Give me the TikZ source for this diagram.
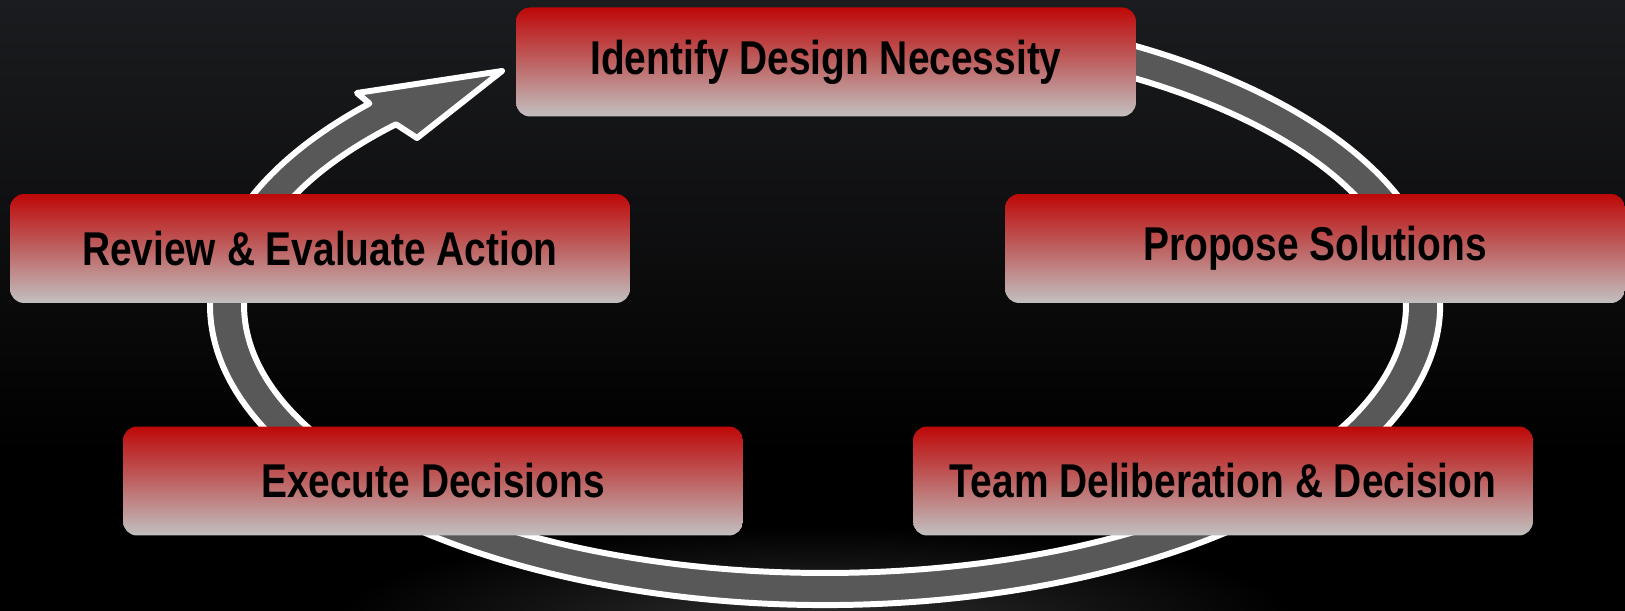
\documentclass[tikz,border=0pt]{standalone}
\usepackage{fontspec}
\setmainfont{Liberation Sans}[FakeStretch=0.82]
\usetikzlibrary{positioning}

\definecolor{bgtop}{RGB}{41,44,48}
\definecolor{bgmid}{RGB}{27,28,31}
\definecolor{bglow}{RGB}{10,10,11}
\definecolor{boxred}{RGB}{190,8,8}
\definecolor{boxmid}{RGB}{190,98,98}
\definecolor{boxgrey}{RGB}{194,192,192}
\definecolor{ringgrey}{RGB}{88,88,88}

\pgfdeclareverticalshading{backdrop}{100bp}{color(0bp)=(black); color(38bp)=(black); color(50bp)=(bglow); color(75bp)=(bgmid); color(100bp)=(bgtop)}

\tikzset{
  stage/.style={rounded corners=0.28cm, minimum width=12.4cm, minimum height=2.18cm,
    top color=boxred, bottom color=boxgrey, middle color=boxmid,
    font=\fontsize{27}{30}\selectfont\bfseries, text=black, inner sep=0pt},
  ring/.style={fill=ringgrey, draw=white, line width=3.4pt, line join=round}
}

\begin{document}
\begin{tikzpicture}[x=0.02cm,y=0.02cm]
    \useasboundingbox (0,0) rectangle (1625,611);
    \shade[shading=backdrop] (0,0) rectangle (1625,611);
    \begin{scope}
        \clip (0,0) rectangle (1625,611);
        \shade[inner color=black!82!white, outer color=black] (815,-10) ellipse [x radius=480, y radius=95];
    \end{scope}

    % the cycle arrow, tail hidden under the top box
    \begin{scope}[shift={(825,306)}]
        \draw[ring] (70:615 and 300) arc[start angle=70, end angle=-222.2, x radius=615, y radius=300]
            -- (-468,212) -- (-323,234) -- (-408,167)
            -- (-222.4:581 and 268) arc[start angle=-222.4, end angle=70, x radius=581, y radius=268] -- cycle;
    \end{scope}

    \node[stage] (identify) at (826,549) {Identify Design Necessity};
    \node[stage] (review)   at (320,362.5) {Review \& Evaluate Action};
    \node[stage] (propose)  at (1315,362.5) {Propose Solutions};
    \node[stage] (execute)  at (433,130) {Execute Decisions};
    \node[stage] (team)     at (1223,130) {Team Deliberation \& Decision};
\end{tikzpicture}
\end{document}
